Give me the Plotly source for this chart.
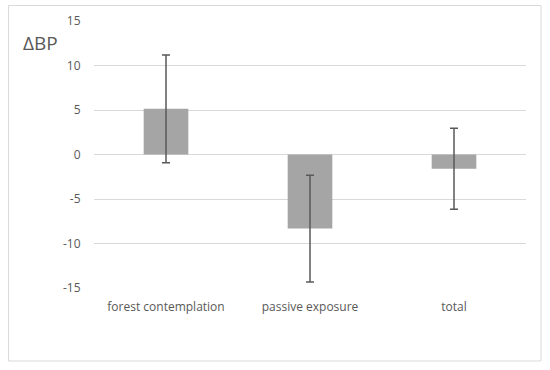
import plotly.graph_objects as go

categories = ["forest contemplation", "passive exposure", "total"]
means = [5.13, -8.32, -1.6]
errors = [6.05, 6.0, 4.55]
tick_vals = [15, 10, 5, 0, -5, -10, -15]
tick_text = ["15", "10", "5", "0", "-5", "-10", "-15"]

W, H = 550, 370
ml, mr, mt, mb = 94, 24, 21, 82
pw = W - ml - mr
ph = H - mt - mb

def px_x(x):
    return (x - ml) / pw

def px_y(y):
    return (H - mb - y) / ph

fig = go.Figure()
fig.add_trace(go.Bar(
    x=categories, y=means,
    width=0.31,
    marker=dict(color="#a5a5a5", line=dict(width=0)),
    error_y=dict(type="data", array=errors, visible=True,
                 color="#595959", thickness=1.5, width=4),
))

fig.add_shape(type="rect", xref="paper", yref="paper",
              x0=px_x(8.5), x1=px_x(541), y0=px_y(361), y1=px_y(5.5),
              line=dict(color="#d9d9d9", width=1), fillcolor="rgba(0,0,0,0)",
              layer="below")

fig.add_annotation(text="ΔBP", xref="paper", yref="paper",
                   x=px_x(21), y=px_y(43), xanchor="left", yanchor="middle",
                   showarrow=False, font=dict(size=19, color="#595959", family="Open Sans"))

fig.update_layout(
    width=W, height=H,
    margin=dict(l=ml, r=mr, t=mt, b=mb, autoexpand=False),
    paper_bgcolor="white", plot_bgcolor="white",
    showlegend=False,
    font=dict(family="Open Sans", color="#595959", size=12),
    xaxis=dict(showgrid=False, zeroline=False, showline=False, automargin=False,
               ticks="outside", ticklen=8, tickcolor="rgba(0,0,0,0)",
               tickfont=dict(size=12, color="#595959")),
    yaxis=dict(range=[-15, 15], tickvals=tick_vals, ticktext=tick_text, showgrid=True,
               gridcolor="#d9d9d9", gridwidth=1, zeroline=False, showline=False,
               automargin=False,
               ticks="outside", ticklen=10, tickcolor="rgba(0,0,0,0)",
               tickfont=dict(size=12, color="#595959")),
)

fig.write_html("out.html", config={"displayModeBar": False},
               post_script="document.body.style.margin='0';")
